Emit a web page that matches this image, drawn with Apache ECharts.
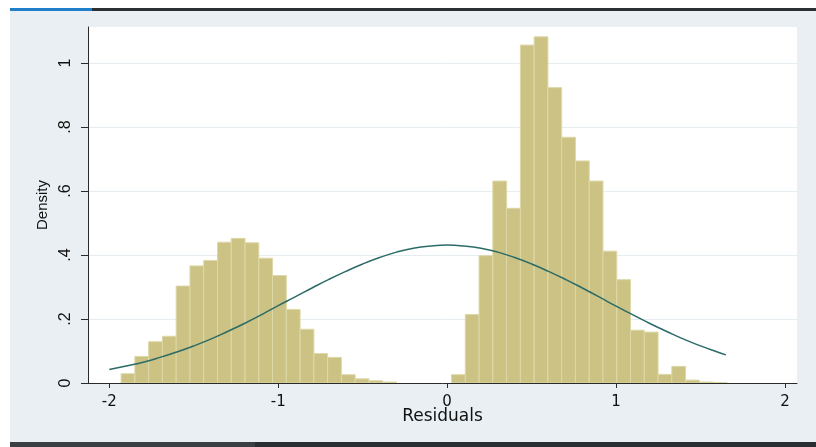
<!DOCTYPE html>
<html>
<head>
<meta charset="utf-8">
<script src="https://cdn.jsdelivr.net/npm/echarts@6/dist/echarts.min.js"></script>
<style>
html,body{margin:0;padding:0;background:#ffffff;}
#chart{width:816px;height:447px;}
</style>
</head>
<body>
<div id="chart"></div>
<script>
// Histogram of residuals (density), 44 equal-width bins
const binStart = -1.930;
const binWidth = 0.0815;
const densities = [
  0.029, 0.083, 0.129, 0.146, 0.303, 0.366, 0.383, 0.440, 0.452, 0.438,
  0.390, 0.336, 0.230, 0.168, 0.092, 0.080, 0.026, 0.013, 0.007, 0.003,
  0, 0, 0, 0,
  0.026, 0.214, 0.398, 0.631, 0.546, 1.056, 1.082, 0.923, 0.768, 0.694,
  0.631, 0.412, 0.323, 0.165, 0.159, 0.027, 0.052, 0.009, 0.003, 0.0015
];
// Normal density overlay
const curveX = [-2.0, -1.9, -1.8, -1.7, -1.6, -1.5, -1.4, -1.3, -1.2, -1.1,
  -1.0, -0.9, -0.8, -0.7, -0.6, -0.5, -0.4, -0.3, -0.2, -0.1, 0.0,
  0.1, 0.2, 0.3, 0.4, 0.5, 0.6, 0.7, 0.8, 0.9, 1.0, 1.1, 1.2, 1.3, 1.4, 1.5, 1.6, 1.65];
const curveY = [0.042, 0.053, 0.065, 0.080, 0.097, 0.116, 0.137, 0.161, 0.186, 0.213,
  0.242, 0.269, 0.297, 0.324, 0.349, 0.372, 0.392, 0.409, 0.421, 0.428, 0.431,
  0.428, 0.421, 0.409, 0.392, 0.372, 0.349, 0.324, 0.297, 0.269, 0.240, 0.213, 0.186, 0.161, 0.137, 0.116, 0.097, 0.088];
const xTicks = [-2, -1, 0, 1, 2];
const yTicks = [0, 0.2, 0.4, 0.6, 0.8, 1];

const barData = [];
densities.forEach((h, i) => {
  if (h > 0) barData.push([binStart + i * binWidth, binStart + (i + 1) * binWidth, h]);
});
const lineData = curveX.map((x, i) => [x, curveY[i]]);

const chart = echarts.init(document.getElementById('chart'), null, {renderer: 'canvas'});
const font = '"Liberation Sans", Arial, sans-serif';
const wideFont = '"DejaVu Sans", sans-serif';
chart.setOption({
  animation: false,
  backgroundColor: '#ffffff',
  graphic: [
    {type: 'rect', left: 10, top: 11, shape: {width: 806, height: 431}, style: {fill: '#e9eff3'}, z: -10},
    {type: 'rect', left: 10, top: 8, shape: {width: 806, height: 3}, style: {fill: '#2b3035'}, z: -9},
    {type: 'rect', left: 10, top: 8, shape: {width: 82, height: 3}, style: {fill: '#1f7fc8'}, z: -8},
    {type: 'rect', left: 10, top: 442, shape: {width: 806, height: 5}, style: {fill: '#2a2e33'}, z: -9},
    {type: 'rect', left: 10, top: 442, shape: {width: 245, height: 5}, style: {fill: '#3a3f44'}, z: -8}
  ],
  grid: {
    left: 88, right: 19, top: 27, bottom: 64,
    show: true, backgroundColor: '#ffffff', borderWidth: 0
  },
  xAxis: {
    type: 'value',
    min: -2.126, max: 2.071,
    name: 'Residuals',
    nameLocation: 'middle',
    nameGap: 25,
    nameMoveOverlap: false,
    nameTextStyle: {fontFamily: wideFont, fontSize: 17, color: '#111111'},
    axisLine: {show: true, onZero: false, lineStyle: {color: '#2a2a2a', width: 1}},
    axisTick: {show: true, length: 5, customValues: xTicks, lineStyle: {color: '#2a2a2a'}},
    axisLabel: {customValues: xTicks, fontFamily: wideFont, fontSize: 15, color: '#111111', margin: 12,
      formatter: v => String(v)},
    splitLine: {show: false}
  },
  yAxis: {
    type: 'value',
    min: 0, max: 1.1126,
    name: 'Density',
    nameLocation: 'middle',
    nameGap: 38,
    nameRotate: 90,
    nameMoveOverlap: false,
    nameTextStyle: {fontFamily: font, fontSize: 15, color: '#111111'},
    axisLine: {show: true, onZero: false, lineStyle: {color: '#2a2a2a', width: 1}},
    axisTick: {show: true, length: 7, customValues: yTicks, lineStyle: {color: '#2a2a2a'}},
    axisLabel: {customValues: yTicks, rotate: 90, fontFamily: font, fontSize: 16, color: '#111111', margin: 14,
      formatter: v => (v === 0 ? '0' : v === 1 ? '1' : String(Math.round(v * 10) / 10).replace('0.', '.'))},
    splitLine: {show: true, lineStyle: {color: '#e6edf1', width: 1}}
  },
  series: [
    {
      type: 'custom',
      data: barData,
      encode: {x: [0, 1], y: 2},
      clip: true,
      renderItem: function (params, api) {
        const x0 = api.value(0), x1 = api.value(1), h = api.value(2);
        const p0 = api.coord([x0, h]);
        const p1 = api.coord([x1, 0]);
        return {
          type: 'rect',
          shape: {x: p0[0], y: p0[1], width: p1[0] - p0[0], height: p1[1] - p0[1]},
          style: {fill: '#cbc284', stroke: '#ddd8a8', lineWidth: 1}
        };
      },
      z: 2
    },
    {
      type: 'line',
      data: lineData,
      smooth: true,
      showSymbol: false,
      symbol: 'none',
      lineStyle: {color: '#2b6b66', width: 1.5},
      z: 3
    }
  ]
});
</script>
</body>
</html>
